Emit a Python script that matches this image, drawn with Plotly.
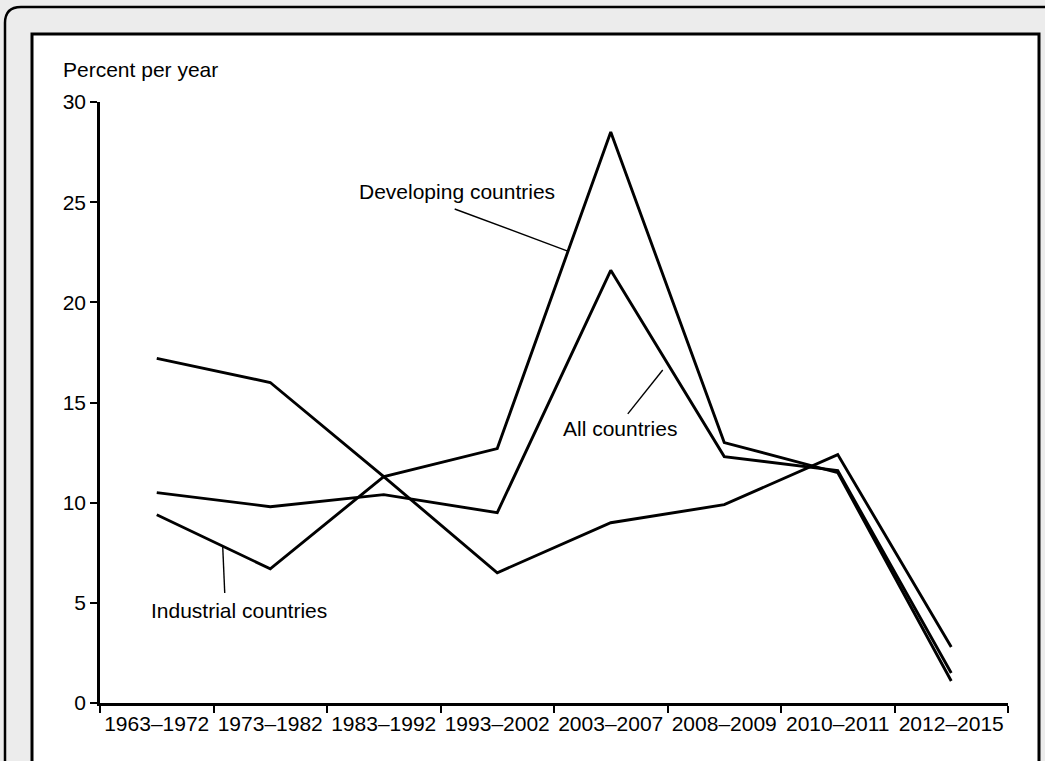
import plotly.graph_objects as go

# ---- data ----
periods = ["1963–1972", "1973–1982", "1983–1992", "1993–2002",
           "2003–2007", "2008–2009", "2010–2011", "2012–2015"]
developing = [17.2, 16.0, 11.3, 12.7, 28.5, 13.0, 11.5, 1.1]
all_countries = [10.5, 9.8, 10.4, 9.5, 21.6, 12.3, 11.6, 1.5]
industrial = [9.4, 6.7, 11.3, 6.5, 9.0, 9.9, 12.4, 2.8]

y_ticks = [0, 5, 10, 15, 20, 25, 30]
y_title = "Percent per year"
series_labels = ["Developing countries", "All countries", "Industrial countries"]

FONT = "Liberation Sans, Arial, Helvetica, sans-serif"
W, H = 1045, 761
L, R, T, B = 100, 37, 102, 58
PW, PH = W - L - R, H - T - B


def px(xp):
    return (xp - L) / PW


def py(yp):
    return (H - B - yp) / PH


fig = go.Figure()
for name, vals in [("Developing countries", developing),
                   ("All countries", all_countries),
                   ("Industrial countries", industrial)]:
    fig.add_trace(go.Scatter(x=periods, y=vals, mode="lines", name=name,
                             line=dict(color="black", width=2.9),
                             showlegend=False, hoverinfo="x+y+name"))

shapes = []
# outer page frame (scanned book box)
shapes.append(dict(type="rect", xref="paper", yref="paper",
                   x0=px(32), x1=px(1039), y0=py(34), y1=py(800),
                   fillcolor="white", line=dict(color="black", width=3),
                   layer="below"))
r = 16
path = (f"M {px(5)},{py(800)} L {px(5)},{py(7 + r)} "
        f"Q {px(5)},{py(7)} {px(5 + r)},{py(7)} L {px(1080)},{py(7)}")
shapes.append(dict(type="path", xref="paper", yref="paper", path=path,
                   line=dict(color="black", width=2.5), layer="below"))

# leader lines for the labels (data coordinates)
leaders = [((2.625, 24.66), (3.621, 22.56)),
           ((4.150, 14.43), (4.458, 16.62)),
           ((0.599, 5.49), (0.581, 7.84))]
for (x0, y0), (x1, y1) in leaders:
    shapes.append(dict(type="line", xref="x", yref="y", x0=x0, y0=y0,
                       x1=x1, y1=y1, line=dict(color="black", width=1.4)))

annotations = [
    dict(text=y_title, xref="paper", yref="paper", x=px(61), y=py(69),
         xanchor="left", yanchor="middle", showarrow=False,
         font=dict(family=FONT, size=21, color="black")),
    dict(text=series_labels[0], xref="x", yref="y", x=2.643, y=25.55,
         showarrow=False, font=dict(family=FONT, size=21, color="black")),
    dict(text=series_labels[1], xref="x", yref="y", x=4.08, y=13.7,
         showarrow=False, font=dict(family=FONT, size=21, color="black")),
    dict(text=series_labels[2], xref="x", yref="y", x=0.725, y=4.6,
         showarrow=False, font=dict(family=FONT, size=21, color="black")),
]

fig.update_layout(
    width=W, height=H,
    margin=dict(l=L, r=R, t=T, b=B, pad=0, autoexpand=False),
    paper_bgcolor="#ececec",
    plot_bgcolor="white",
    font=dict(family=FONT, size=21, color="black"),
    shapes=shapes,
    annotations=annotations,
    xaxis=dict(type="category", range=[-0.5, 7.5], showgrid=False,
               showline=True, linecolor="black", linewidth=2.5,
               ticks="outside", tickson="boundaries", ticklen=7,
               tickwidth=2, tickcolor="black", zeroline=False,
               tickangle=0, automargin=False,
               tickfont=dict(family=FONT, size=21, color="black")),
    yaxis=dict(range=[0, 30], tickvals=y_ticks, showgrid=False,
               showline=True, linecolor="black", linewidth=2.5,
               ticks="outside", ticklen=7, tickwidth=2, tickcolor="black",
               zeroline=False, automargin=False,
               tickfont=dict(family=FONT, size=21, color="black")),
)

fig.write_html("out.html",
               config={"displayModeBar": False},
               post_script="document.body.style.margin='0';"
                           "document.body.style.overflow='hidden';")
